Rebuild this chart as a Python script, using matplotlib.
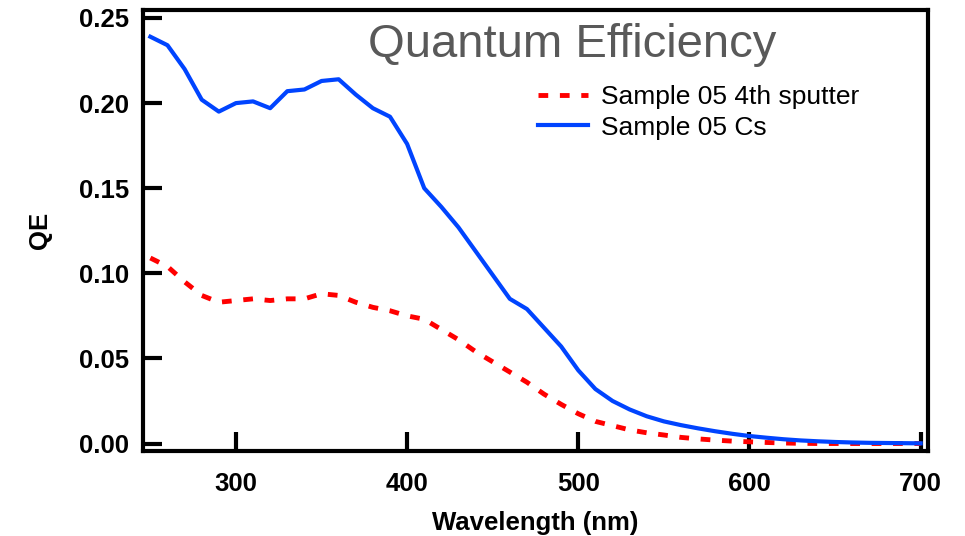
import matplotlib
matplotlib.use("Agg")
import matplotlib.pyplot as plt

plt.rcParams['font.family'] = ['Liberation Sans', 'DejaVu Sans']

wavelength = list(range(250, 701, 10))

qe_cs = [0.239, 0.234, 0.220, 0.202, 0.195, 0.200, 0.201, 0.197, 0.207, 0.208,
         0.213, 0.214, 0.205, 0.197, 0.192, 0.176, 0.150, 0.139, 0.127, 0.113,
         0.099, 0.085, 0.079, 0.068, 0.057, 0.043, 0.032, 0.025, 0.020, 0.016,
         0.013, 0.0108, 0.0089, 0.0072, 0.0057, 0.0044, 0.0034, 0.0025, 0.0018, 0.0013,
         0.0009, 0.0006, 0.0004, 0.0003, 0.0002, 0.0001]

qe_sputter = [0.109, 0.104, 0.095, 0.087, 0.083, 0.084, 0.085, 0.084, 0.085, 0.085,
              0.088, 0.087, 0.083, 0.080, 0.078, 0.075, 0.073, 0.067, 0.061, 0.054,
              0.048, 0.042, 0.036, 0.029, 0.023, 0.0175, 0.013, 0.0105, 0.008, 0.0063,
              0.005, 0.0036, 0.0027, 0.002, 0.0014, 0.001, 0.0006, 0.0003, 0.0001, 0.0,
              0.0, 0.0, 0.0, 0.0, 0.0, 0.0]

x_ticks = [300, 400, 500, 600, 700]
y_ticks = [0.00, 0.05, 0.10, 0.15, 0.20, 0.25]

fig = plt.figure(figsize=(9.65, 5.36), dpi=100)
ax = fig.add_axes([143/965, 1 - 451/536, (928 - 143)/965, (451 - 10)/536])

ax.plot(wavelength, qe_sputter, color='#FF0000', lw=3.5, dashes=(2, 2.4),
        label='Sample 05 4th sputter')
ax.plot(wavelength, qe_cs, color='#0044FF', lw=3.0, label='Sample 05 Cs')

ax.set_xlim(245.7, 704.3)
ax.set_ylim(-0.0044, 0.2547)
ax.set_xticks(x_ticks)
ax.set_yticks(y_ticks)
ax.set_xticklabels([str(v) for v in x_ticks])
ax.set_yticklabels([f"{v:.2f}" for v in y_ticks])

for s in ax.spines.values():
    s.set_linewidth(3)
ax.tick_params(direction='in', length=14, width=3, labelsize=18.5)
ax.tick_params(axis='x', pad=15)
ax.tick_params(axis='y', pad=10)
for lab in ax.get_xticklabels() + ax.get_yticklabels():
    lab.set_fontweight('bold')

ax.set_xlabel('Wavelength (nm)', fontsize=18.5, fontweight='bold', labelpad=11)
ax.set_ylabel('QE', fontsize=18.5, fontweight='bold', labelpad=19)

fig.text(572/965, 1 - 45/536, 'Quantum Efficiency', fontsize=34, color='#595959',
         ha='center', va='center')

leg = ax.legend(loc='upper left', bbox_to_anchor=(538/965, 1 - 85/536),
                bbox_transform=fig.transFigure, frameon=False, fontsize=19,
                handlelength=1.9, handletextpad=0.5, borderpad=0, borderaxespad=0,
                labelspacing=0.25)

fig.savefig('out.png', dpi=100)
